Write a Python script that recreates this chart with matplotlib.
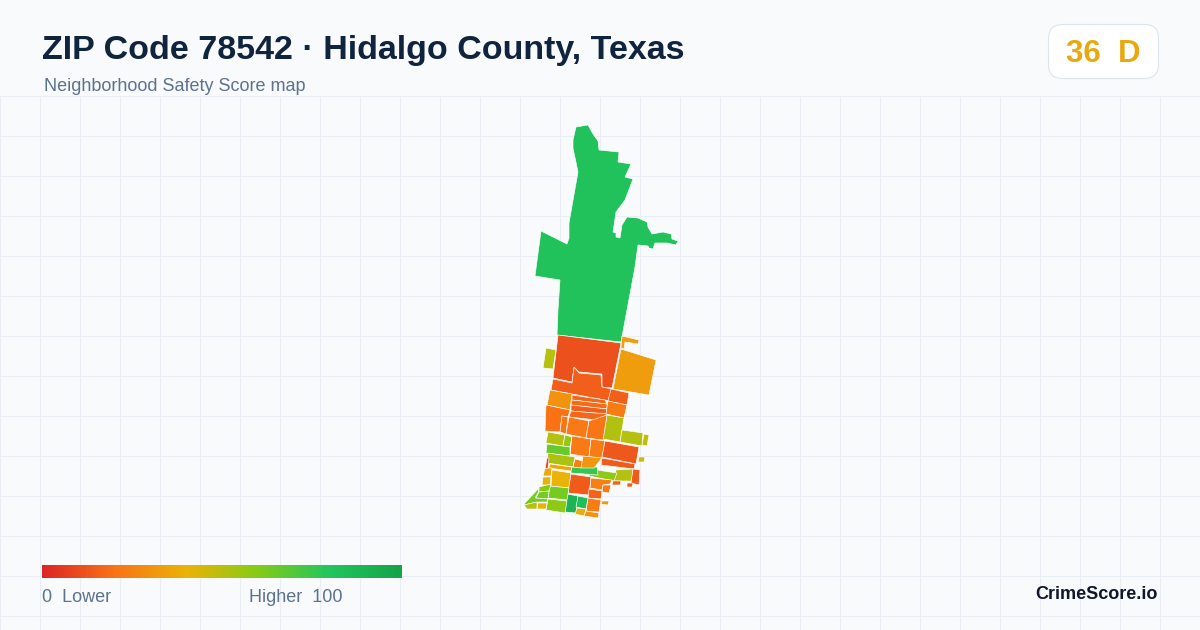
import numpy as np
import matplotlib
matplotlib.use('Agg')
import matplotlib.pyplot as plt
from matplotlib.colors import LinearSegmentedColormap
from matplotlib.patches import FancyBboxPatch, Polygon

title = 'ZIP Code 78542 · Hidalgo County, Texas'
subtitle = 'Neighborhood Safety Score map'
badge_text = '36  D'
brand = 'CrimeScore.io'

# colour ramp of the legend
ramp_stops = [0, 0.2, 0.4, 0.6, 0.8, 1]
ramp_colors = ['#dc2626', '#f97316', '#eab308', '#84cc16', '#22c55e', '#16a34a']

# tract outlines in pixels, each with its safety score
north = [(576,127),(588,125),(593,134),(598,141),(599,150),(619,152),(618,162),(631,164),(625,177),(633,179),
         (625,200),(616,212),(613,232),(616,233),(616,237),(620,238),(622,225),(627,217),(638,218),(647,222),
         (648,227),(652,234),(663,232),(671,234),(672,239),(678,241),(676,245),(667,243),(655,243),(653,249),
         (649,248),(648,246),(638,245),(635,267),(621,342),(557,335),(558,310),(560,280),(535,276),(541,231),
         (567,244),(569,238),(569,223),(578,172),(573,148),(573,140)]
tracts = [
    (north, 82),
    ([(558,335),(621,343),(612,388),(602,387),(602,374),(579,372),(574,367),(572,382),(553,378)], 11),
    ([(553,379),(572,383),(574,367),(579,373),(601,375),(602,387),(612,389),(610,401),(572,394),(551,390)], 15),
    ([(621,349),(656,360),(649,395),(613,389)], 33),
    ([(622,336),(639,340),(638,344),(625,342),(624,349),(621,348)], 33),
    ([(546,348),(556,350),(553,369),(543,368)], 50),
    ([(550,390),(572,394),(570,410),(547,405)], 30),
    ([(572,395),(605,400),(607,404),(572,400)], 17),
    ([(572,400),(607,404),(607,409),(571,405)], 18),
    ([(571,405),(607,409),(606,414),(571,411)], 15),
    ([(571,411),(607,414),(606,421),(569,417)], 17),
    ([(611,389),(629,393),(627,405),(608,401)], 15),
    ([(608,401),(627,405),(624,418),(606,414)], 23),
    ([(607,415),(624,418),(620,442),(603,439)], 51),
    ([(546,405),(570,410),(568,417),(562,416),(560,432),(545,431)], 20),
    ([(562,416),(568,417),(566,434),(560,432)], 21),
    ([(569,417),(589,421),(586,438),(566,434)], 22),
    ([(589,421),(607,415),(603,440),(586,438)], 21),
    ([(622,430),(643,433),(642,446),(620,442)], 50),
    ([(644,434),(649,435),(647,446),(642,445)], 48),
    ([(548,432),(565,435),(563,446),(546,443)], 50),
    ([(565,435),(572,437),(570,447),(563,446)], 57),
    ([(572,436),(591,439),(589,457),(570,454)], 22),
    ([(591,439),(605,441),(602,458),(589,457)], 23),
    ([(605,441),(639,447),(636,464),(602,457)], 13),
    ([(602,458),(635,464),(634,469),(601,465)], 14),
    ([(616,470),(633,469),(632,481),(613,481)], 50),
    ([(590,469),(617,473),(614,481),(589,476)], 58),
    ([(571,467),(597,467),(598,475),(571,473)], 76),
    ([(633,469),(640,470),(639,485),(631,483)], 14),
    ([(639,457),(645,457),(644,462),(638,462)], 48),
    ([(547,444),(570,447),(570,456),(546,453)], 66),
    ([(548,453),(575,457),(573,467),(547,463)], 52),
    ([(575,459),(583,461),(581,468),(573,467)], 24),
    ([(583,456),(602,458),(594,468),(581,468)], 31),
    ([(550,464),(572,467),(571,471),(549,468)], 36),
    ([(545,468),(552,468),(551,476),(543,476)], 37),
    ([(543,477),(551,477),(550,485),(542,485)], 41),
    ([(552,470),(571,473),(569,488),(551,486)], 40),
    ([(547,458),(549,458),(548,468),(545,469)], 8),
    ([(571,474),(591,477),(589,495),(568,493)], 14),
    ([(591,478),(612,480),(610,484),(603,485),(602,490),(590,488)], 24),
    ([(603,485),(611,485),(609,493),(602,492)], 22),
    ([(613,481),(621,481),(620,485),(612,485)], 15),
    ([(627,483),(633,483),(632,487),(627,487)], 15),
    ([(589,489),(602,491),(601,499),(588,498)], 16),
    ([(588,498),(601,500),(599,512),(586,511)], 23),
    ([(602,501),(609,501),(608,505),(601,504)], 32),
    ([(567,494),(578,496),(576,513),(565,512)], 90),
    ([(578,496),(588,498),(586,509),(576,507)], 84),
    ([(577,508),(586,509),(584,516),(575,514)], 38),
    ([(586,511),(599,513),(598,518),(584,516)], 30),
    ([(550,486),(569,488),(567,500),(548,498)], 63),
    ([(548,499),(567,501),(565,513),(546,510)], 58),
    ([(539,487),(551,484),(549,491),(539,492)], 59),
    ([(539,492),(549,491),(548,499),(536,498)], 63),
    ([(524,504),(539,488),(538,493),(535,498),(548,499),(547,502),(537,502),(524,505)], 63),
    ([(524,505),(537,502),(537,509),(527,509)], 50),
    ([(538,503),(547,503),(546,509),(537,509)], 40),
]

BG = '#f8fafc'
GRID = '#e8eef3'
TEXT_DARK = '#10243e'
TEXT_MUTED = '#5b7290'

plt.rcParams['font.family'] = ['Liberation Sans', 'DejaVu Sans']

fig = plt.figure(figsize=(12, 6.3), dpi=100, facecolor=BG)
ax = fig.add_axes([0, 0, 1, 1])
ax.set_xlim(0, 1200)
ax.set_ylim(630, 0)
ax.axis('off')

# background grid, starts under the header
for gx in np.arange(0, 1200, 40):
    ax.plot([gx, gx], [96, 630], color=GRID, lw=0.8, zorder=1)
for gy in np.arange(96, 630, 40):
    ax.plot([0, 1200], [gy, gy], color=GRID, lw=0.8, zorder=1)

cmap = LinearSegmentedColormap.from_list('score', list(zip(ramp_stops, ramp_colors)))

for outline, score in tracts:
    ax.add_patch(Polygon(outline, closed=True, facecolor=cmap(score / 100),
                         edgecolor='white', lw=0.45, zorder=3))

# header
ax.text(42, 59, title, fontsize=24.5, fontweight='bold', color=TEXT_DARK, va='baseline', ha='left', zorder=5)
ax.text(44, 91, subtitle, fontsize=13, color=TEXT_MUTED, va='baseline', ha='left', zorder=5)

# score badge
ax.add_patch(FancyBboxPatch((1048.5, 24.5), 110, 54, boxstyle='round,pad=0,rounding_size=14',
                            fc='white', ec='#dfe5ec', lw=0.8, zorder=4))
ax.text(1103, 62, badge_text, fontsize=22.5, fontweight='bold', color='#e9a80f', va='baseline', ha='center', zorder=5)

# legend bar
ramp = np.linspace(0, 1, 360).reshape(1, -1)
ax.imshow(ramp, cmap=cmap, extent=(42, 402, 578, 565), aspect='auto', zorder=4)
ax.set_xlim(0, 1200)
ax.set_ylim(630, 0)
ax.text(42, 602, '0  Lower', fontsize=13, color=TEXT_MUTED, va='baseline', ha='left', zorder=5)
ax.text(249, 602, 'Higher  100', fontsize=13, color=TEXT_MUTED, va='baseline', ha='left', zorder=5)

ax.text(1158, 599, brand, fontsize=13, fontweight='bold', color='#0f172a', va='baseline', ha='right', zorder=5)

fig.savefig('out.png', dpi=100, facecolor=BG)
